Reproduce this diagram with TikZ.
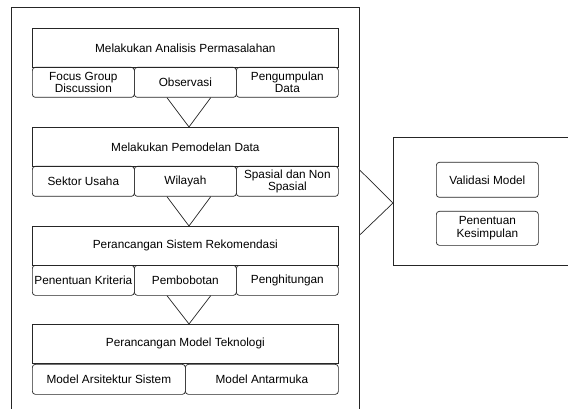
\documentclass[tikz,border=0pt]{standalone}
\usepackage{fontspec}
\setmainfont{Liberation Sans}
\usetikzlibrary{calc}
\begin{document}
\begin{tikzpicture}[x=1pt,y=-1pt,
  every node/.style={font=\fontsize{11.8}{12.8}\selectfont, align=center, inner sep=0pt},
  mainbox/.style={draw=black!85, line width=0.7pt, minimum width=306pt, minimum height=39pt},
  subbox/.style={draw=black!85, line width=0.7pt, rounded corners=3pt, minimum height=30pt},
  frame/.style={draw=black!85, line width=0.7pt},
  conn/.style={draw=black!85, line width=0.7pt}]
\useasboundingbox (0,0) rectangle (568,409);
\fill[white] (0,0) rectangle (568,409);
\clip (0,0) rectangle (568,409);
% outer frames
\node[frame, minimum width=348pt, minimum height=420pt, anchor=north west] (outer) at (11,7) {};
\node[frame, minimum width=190pt, minimum height=128pt, anchor=north west] (right) at (393,137) {};
% stage 1
\node[mainbox, anchor=north west] (m1) at (32,28) {Melakukan Analisis Permasalahan};
\node[subbox, minimum width=102pt, anchor=north west] (s11) at (32,67) {Focus Group\\Discussion};
\node[subbox, minimum width=102pt, anchor=north west] (s12) at (134,67) {Observasi};
\node[subbox, minimum width=102pt, anchor=north west] (s13) at (236,67) {Pengumpulan\\Data};
% stage 2
\node[mainbox, anchor=north west] (m2) at (32,127) {Melakukan Pemodelan Data};
\node[subbox, minimum width=102pt, anchor=north west] (s21) at (32,166) {Sektor Usaha};
\node[subbox, minimum width=102pt, anchor=north west] (s22) at (134,166) {Wilayah};
\node[subbox, minimum width=102pt, anchor=north west] (s23) at (236,166) {Spasial dan Non\\Spasial};
% stage 3
\node[mainbox, anchor=north west] (m3) at (32,226) {Perancangan Sistem Rekomendasi};
\node[subbox, minimum width=102pt, anchor=north west] (s31) at (32,265) {Penentuan Kriteria};
\node[subbox, minimum width=102pt, anchor=north west] (s32) at (134,265) {Pembobotan};
\node[subbox, minimum width=102pt, anchor=north west] (s33) at (236,265) {Penghitungan};
% stage 4
\node[mainbox, anchor=north west] (m4) at (32,324) {Perancangan Model Teknologi};
\node[subbox, minimum width=153pt, anchor=north west] (s41) at (32,364) {Model Arsitektur Sistem};
\node[subbox, minimum width=153pt, anchor=north west] (s42) at (185,364) {Model Antarmuka};
% right box contents
\node[subbox, minimum width=102pt, minimum height=35pt, anchor=north west] (r1) at (436,162) {Validasi Model};
\node[subbox, minimum width=102pt, minimum height=34pt, anchor=north west] (r2) at (436,211) {Penentuan\\Kesimpulan};
% V connectors
\draw[conn] ($(s12.south west)+(33,0)$) -- ($(m2.north west)+(157,0)$) -- ($(s12.south east)+(-26,0)$);
\draw[conn] ($(s22.south west)+(33,0)$) -- ($(m3.north west)+(157,0)$) -- ($(s22.south east)+(-26,0)$);
\draw[conn] ($(s32.south west)+(33,0)$) -- ($(m4.north west)+(157,0)$) -- ($(s32.south east)+(-26,0)$);
% chevron to right box
\draw[conn] ($(outer.north east)+(0,163)$) -- ($(right.north west)+(0,66)$) -- ($(outer.north east)+(0,228)$);
\end{tikzpicture}
\end{document}
